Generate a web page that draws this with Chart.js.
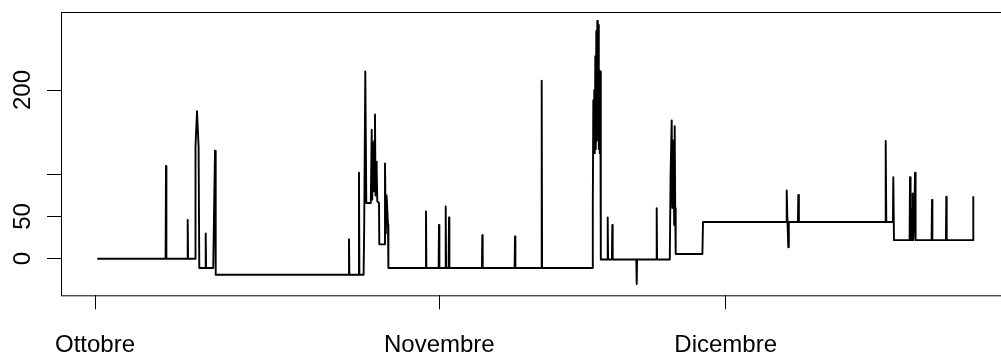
<!DOCTYPE html>
<html>
<head>
<meta charset="utf-8">
<script src="https://cdn.jsdelivr.net/npm/chart.js@4/dist/chart.umd.min.js"></script>
<style>
  html, body { margin: 0; padding: 0; background: #fff; overflow: hidden; }
  #wrap { width: 1001px; height: 354px; overflow: hidden; }
</style>
</head>
<body>
<div id="wrap"><canvas id="c" width="1010" height="354"></canvas></div>
<script>
// time position of each observation (arbitrary index units) and its value
const t = [
  0.23, 7.06, 7.10, 7.14, 9.23, 9.27, 9.31, 10.00, 10.05, 10.20, 10.36, 10.43,
  11.03, 11.07, 11.11, 11.82, 12.00, 12.07,
  25.36, 25.40, 25.44, 26.36, 26.40, 26.44, 26.86, 26.92, 27.03, 27.13,
  27.58, 27.67, 27.72, 27.83, 27.88, 27.93, 28.00, 28.05, 28.12, 28.17, 28.23, 28.40,
  28.43, 28.96, 29.00, 29.08, 29.16, 29.23, 29.30, 29.34,
  33.06, 33.10, 33.14, 34.36, 34.40, 34.44, 35.03, 35.07, 35.11, 35.36, 35.40, 35.44,
  38.69, 38.73, 38.77, 41.96, 42.00, 42.04, 44.63, 44.67, 44.71,
  49.73, 49.78, 49.83, 49.88, 49.93, 49.98, 50.03, 50.08, 50.13, 50.18, 50.23, 50.28,
  50.33, 50.38, 50.43, 50.48, 50.53, 50.58,
  51.23, 51.27, 51.31, 51.69, 51.73, 51.77, 54.13, 54.17, 54.21, 56.13, 56.17, 56.21,
  57.48, 57.56, 57.67, 57.73, 57.80, 57.86, 57.92, 57.97, 58.02, 58.07,
  60.74, 60.80, 69.13, 69.17, 69.25, 69.33, 69.38, 70.29, 70.33, 70.39,
  79.03, 79.07, 79.13, 79.79, 79.83, 79.90,
  81.46, 81.50, 81.56, 81.65, 81.70, 81.77, 81.83, 81.95, 82.00, 82.06,
  83.66, 83.70, 83.74, 85.09, 85.13, 85.17, 87.80, 87.83
];
const values = [
  0, 0, 110, 0, 0, 46, 0, 0, 133, 175, 133, -11,
  -11, 30, -11, -11, 128, -19,
  -19, 23, -19, -19, 102, -19, -19, 38, 222, 66,
  66, 153, 70, 137, 80, 140, 171, 75, 115, 105, 68, 66,
  17, 17, 113, 30, 75, 59, 40, -11,
  -11, 56, -11, -11, 40, -11, -11, 62, -11, -11, 49, -11,
  -11, 28, -11, -11, 26.5, -11, -11, 211, -11,
  -11, 62, 188, 130, 200, 125, 240, 130, 270, 140, 282, 150,
  277, 130, 222, 125, 222, -1,
  -1, 49, -1, -1, 40, -1, -1, -30, -1, -1, 60, -1,
  -1, 100, 164, 60, 140, 115, 40, 157, 60, 5.6,
  5.6, 43.5, 43.5, 81, 43.5, 13.5, 43.5, 43.5, 75.5, 43.5,
  43.5, 139.5, 43.5, 43.5, 96.5, 22,
  22, 96.5, 22, 60, 22, 77.5, 22, 60, 102, 22,
  22, 69.6, 22, 22, 73.5, 22, 22, 74
];

const monthTicks = [0, 34.43, 63.07];
const monthLabels = ['Ottobre', 'Novembre', 'Dicembre'];
const yTicks = [0, 50, 100, 200];
const yTickLabels = ['0', '50', '', '200'];

const FONT = "'Liberation Sans', Arial, Helvetica, sans-serif";

// box around the plot region + rotated y labels, like base R
const rStyle = {
  id: 'rStyle',
  afterDraw(chart) {
    const ctx = chart.ctx;
    const a = chart.chartArea;
    ctx.save();
    ctx.strokeStyle = '#000';
    ctx.lineWidth = 1;
    ctx.strokeRect(a.left + 0.5, a.top + 0.5, a.right - a.left, a.bottom - a.top);
    const ys = chart.scales.y;
    ctx.fillStyle = '#000';
    ctx.font = '24px ' + FONT;
    ctx.textAlign = 'center';
    ctx.textBaseline = 'alphabetic';
    yTicks.forEach((v, i) => {
      if (!yTickLabels[i]) return;
      ctx.save();
      ctx.translate(30, ys.getPixelForValue(v));
      ctx.rotate(-Math.PI / 2);
      ctx.fillText(yTickLabels[i], 0, 0);
      ctx.restore();
    });
    ctx.restore();
  }
};

new Chart(document.getElementById('c'), {
  type: 'line',
  data: {
    datasets: [{
      data: t.map((x, i) => ({ x: x, y: values[i] })),
      borderColor: '#000',
      borderWidth: 1.9,
      borderJoinStyle: 'round',
      pointRadius: 0,
      tension: 0,
      fill: false
    }]
  },
  options: {
    responsive: false,
    animation: false,
    devicePixelRatio: 1,
    layout: { padding: { top: 12, right: 2, left: 0, bottom: 0 } },
    plugins: { legend: { display: false }, tooltip: { enabled: false } },
    scales: {
      x: {
        type: 'linear',
        min: -3.4,
        max: 91.3,
        afterBuildTicks: s => { s.ticks = monthTicks.map(v => ({ value: v })); },
        afterFit: s => { s.height = 58.7; },
        border: { display: false },
        grid: { drawOnChartArea: false, drawTicks: true, tickLength: 14, color: '#000', lineWidth: 1 },
        ticks: {
          autoSkip: false,
          maxRotation: 0,
          padding: 22,
          color: '#000',
          font: { family: FONT, size: 24 },
          callback: (v, i) => monthLabels[i]
        }
      },
      y: {
        min: -43.4,
        max: 292.5,
        afterBuildTicks: s => { s.ticks = yTicks.map(v => ({ value: v })); },
        afterFit: s => { s.width = 61; },
        border: { display: false },
        grid: { drawOnChartArea: false, drawTicks: true, tickLength: 14, color: '#000', lineWidth: 1 },
        ticks: { display: false }
      }
    }
  },
  plugins: [rStyle]
});
</script>
</body>
</html>
